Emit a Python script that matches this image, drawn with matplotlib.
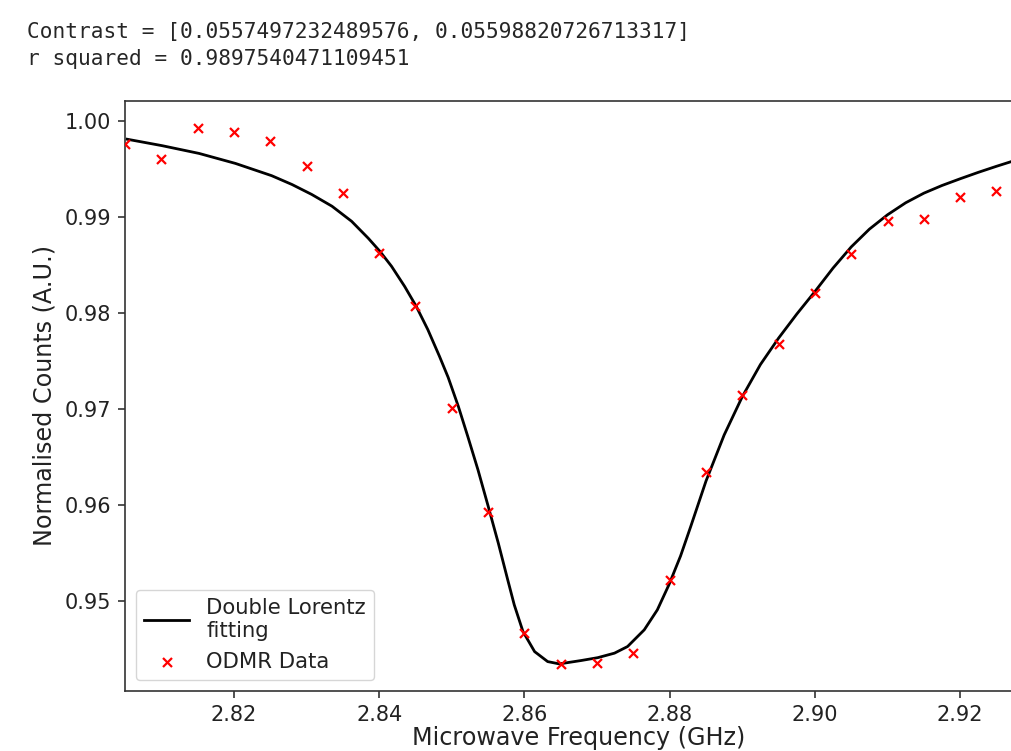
import matplotlib
matplotlib.use("Agg")
import matplotlib.pyplot as plt
from matplotlib.ticker import MultipleLocator, FormatStrFormatter

# Summary values printed above the figure
contrast = [0.0557497232489576, 0.05598820726713317]
r_squared = 0.9897540471109451

# Measured ODMR spectrum (GHz, normalised counts)
freq = [2.805, 2.810, 2.815, 2.820, 2.825, 2.830, 2.835, 2.840, 2.845, 2.850,
        2.855, 2.860, 2.865, 2.870, 2.875, 2.880, 2.885, 2.890, 2.895, 2.900,
        2.905, 2.910, 2.915, 2.920, 2.925]
counts = [0.99767, 0.99608, 0.99931, 0.99889, 0.99791, 0.99531, 0.99253, 0.98628,
          0.98078, 0.97011, 0.95923, 0.94672, 0.94345, 0.94359, 0.94457, 0.95214,
          0.96340, 0.97143, 0.97679, 0.98211, 0.98617, 0.98957, 0.98985, 0.99212,
          0.99270]

# Double Lorentzian fit, sampled along the frequency axis
fit_freq = [2.8053, 2.8101, 2.8152, 2.8202, 2.8252, 2.8280, 2.8307, 2.8335,
            2.8362, 2.8385, 2.8401, 2.8417, 2.8435, 2.8451, 2.8467, 2.8483,
            2.8495, 2.8509, 2.8522, 2.8536, 2.8550, 2.8564, 2.8577, 2.8586,
            2.8598, 2.8614, 2.8632, 2.8648, 2.8678, 2.8701, 2.8724, 2.8742,
            2.8765, 2.8783, 2.8799, 2.8815, 2.8829, 2.8850, 2.8875, 2.8900,
            2.8925, 2.8950, 2.8975, 2.9000, 2.9025, 2.9050, 2.9075, 2.9100,
            2.9125, 2.9150, 2.9175, 2.9200, 2.9225, 2.9250, 2.9275]
fit_counts = [0.99812, 0.99745, 0.99664, 0.99560, 0.99432, 0.99340, 0.99237, 0.99114,
              0.98957, 0.98780, 0.98644, 0.98488, 0.98279, 0.98071, 0.97828, 0.97550,
              0.97330, 0.97028, 0.96715, 0.96368, 0.95990, 0.95604, 0.95221, 0.94960,
              0.94682, 0.94473, 0.94369, 0.94345, 0.94380, 0.94410, 0.94457, 0.94526,
              0.94700, 0.94908, 0.95170, 0.95470, 0.95777, 0.96250, 0.96730, 0.97130,
              0.97465, 0.97740, 0.97990, 0.98225, 0.98470, 0.98690, 0.98875, 0.99025,
              0.99150, 0.99250, 0.99330, 0.99400, 0.99467, 0.99530, 0.99590]

x_limits = (2.805, 2.93)

TICK_FS = 15.0
LABEL_FS = 17.2
LEGEND_FS = 15.2
plt.rcParams.update({
    "font.family": ["DejaVu Sans"],
    "font.size": TICK_FS,
    "text.color": "#222222",
    "axes.labelcolor": "#222222",
    "xtick.labelcolor": "#222222",
    "ytick.labelcolor": "#222222",
    "axes.edgecolor": "#333333",
    "xtick.color": "#333333",
    "ytick.color": "#333333",
    "axes.linewidth": 1.2,
    "xtick.major.width": 1.2,
    "ytick.major.width": 1.2,
    "xtick.major.size": 5.0,
    "ytick.major.size": 5.0,
    "xtick.major.pad": 5.0,
    "ytick.major.pad": 5.0,
})

W, H = 1012, 751
fig = plt.figure(figsize=(W / 100, H / 100), dpi=100)

# Printed fit summary above the plot
mono = dict(family=["DejaVu Sans Mono"], fontsize=15.2, color="#262626")
fig.text(27 / W, 1 - 38 / H, f"Contrast = [{contrast[0]}, {contrast[1]}]", **mono)
fig.text(27 / W, 1 - 65 / H, f"r squared = {r_squared}", **mono)

left, right, top, bottom = 125, 1032.8, 101, 690.7
ax = fig.add_axes([left / W, 1 - bottom / H, (right - left) / W, (bottom - top) / H])

ax.plot(fit_freq, fit_counts, color="black", linewidth=2.0,
        label="Double Lorentz\nfitting")
ax.scatter(freq, counts, marker="x", color="red", s=42, linewidths=1.6,
           label="ODMR Data", zorder=3)

ax.set_xlim(*x_limits)
ax.xaxis.set_major_locator(MultipleLocator(0.02))
ax.yaxis.set_major_locator(MultipleLocator(0.01))
ax.yaxis.set_major_formatter(FormatStrFormatter("%.2f"))
ax.xaxis.set_major_formatter(FormatStrFormatter("%.2f"))
ax.tick_params(labelsize=TICK_FS)

ax.set_xlabel("Microwave Frequency (GHz)", fontsize=LABEL_FS, labelpad=1)
ax.set_ylabel("Normalised Counts (A.U.)", fontsize=LABEL_FS, labelpad=6)

ax.legend(loc="lower left", fontsize=LEGEND_FS, handlelength=2.15)

fig.savefig("out.png", dpi=100)
